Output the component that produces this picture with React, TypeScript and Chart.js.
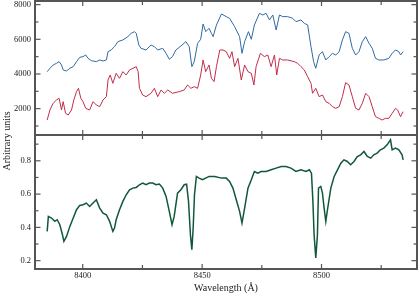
import { useEffect, useRef } from 'react';
import { Chart, registerables } from 'chart.js';

Chart.register(...registerables);

// ---- data (wavelength in Å, flux in arbitrary units) ----
const blueWave = [
  8385.1, 8386.25, 8387.6, 8389.0, 8390.1, 8391.1, 8391.8, 8393.2, 8394.6, 8396.0,
  8397.4, 8398.75, 8400.1, 8401.25, 8402.2, 8403.6, 8405.7, 8407.1, 8408.5, 8409.9,
  8410.6, 8411.9, 8413.3, 8414.7, 8416.8, 8418.9, 8420.3, 8421.7, 8422.4, 8423.5,
  8424.4, 8426.5, 8428.6, 8430.0, 8431.4, 8433.5, 8434.9, 8436.25, 8437.6, 8439.0,
  8441.1, 8443.2, 8444.6, 8445.7, 8446.7, 8448.1, 8449.4, 8450.4, 8451.5, 8452.9,
  8453.9, 8454.6, 8456.0, 8458.1, 8460.1, 8461.5, 8463.6, 8465.7, 8466.7, 8467.8,
  8469.4, 8470.6, 8471.9, 8474.0, 8475.4, 8476.8, 8478.2, 8479.6, 8481.0, 8482.4,
  8483.75, 8485.8, 8487.9, 8489.3, 8491.4, 8492.8, 8494.2, 8495.6, 8496.7, 8497.6,
  8499.0, 8500.4, 8501.8, 8503.2, 8504.6, 8506.0, 8507.4, 8508.75, 8510.1, 8511.5,
  8512.9, 8514.3, 8515.7, 8517.1, 8518.5, 8519.9, 8521.25, 8522.6, 8524.0, 8526.1,
  8528.2, 8529.6, 8531.0, 8532.4, 8533.1, 8534.2,
];
const blueFlux = [
  4134, 4327, 4519, 4615, 4711, 4519, 4231, 4173, 4327, 4423,
  4711, 4962, 5000, 5096, 4904, 4769, 4711, 4808, 4750, 4808,
  5289, 5385, 5577, 5865, 5962, 6154, 6346, 6442, 6346, 5673,
  5481, 5385, 5673, 5577, 5385, 5481, 5192, 4846, 5000, 5385,
  5615, 5865, 5577, 4423, 4711, 5769, 6000, 6885, 6442, 6635,
  6346, 6154, 6827, 7462, 7308, 7212, 6731, 6154, 5192, 5865,
  6442, 6000, 6827, 7500, 7404, 7500, 7115, 7404, 6538, 7404,
  7308, 7308, 7212, 7019, 7115, 6923, 6827, 5577, 4711, 4327,
  5096, 5288, 4808, 5000, 5192, 5096, 5288, 5962, 6442, 6346,
  5481, 5096, 5288, 5865, 6154, 5769, 5481, 4904, 4808, 4808,
  4904, 5192, 5385, 5288, 5096, 5288,
];

const redWave = [
  8385.1, 8386.25, 8387.6, 8389.0, 8390.1, 8391.1, 8391.8, 8392.8, 8393.9, 8395.3,
  8396.25, 8397.4, 8398.2, 8399.2, 8400.1, 8401.25, 8402.9, 8404.3, 8405.7, 8407.1,
  8408.5, 8409.9, 8410.6, 8411.5, 8412.6, 8414.0, 8415.4, 8416.8, 8418.2, 8419.6,
  8421.0, 8422.4, 8423.2, 8423.75, 8425.1, 8426.5, 8428.6, 8430.0, 8431.4, 8432.8,
  8434.2, 8435.6, 8437.6, 8440.4, 8442.5, 8443.9, 8445.3, 8446.7, 8448.1, 8449.4,
  8450.4, 8451.5, 8452.9,
  8453.9, 8455.0, 8456.0, 8457.4, 8458.75, 8460.1, 8461.5, 8462.5, 8463.6, 8465.0,
  8466.4, 8467.8, 8469.2, 8470.6, 8471.7, 8472.6, 8474.4, 8476.1, 8477.5, 8478.9,
  8480.3, 8481.25, 8482.4, 8483.75, 8485.8, 8488.6, 8490.0, 8491.4, 8492.8, 8494.2,
  8495.6, 8496.25, 8497.6, 8499.0, 8500.4, 8501.8, 8503.2, 8504.6, 8506.0, 8507.4,
  8508.75, 8510.1, 8511.5, 8512.9, 8514.3, 8515.7, 8517.1, 8518.5, 8519.9, 8521.25,
  8522.6, 8524.0, 8525.4, 8526.8, 8528.2, 8529.6, 8531.0, 8531.9, 8533.1, 8534.2,
];
const redFlux = [
  1346, 1923, 2308, 2500, 2596, 1923, 2404, 1731, 1635, 1923,
  2500, 2981, 3173, 2596, 2404, 2019, 1923, 2404, 2212, 2115,
  2500, 2692, 3654, 3942, 3462, 4039, 3750, 4135, 3942, 4231,
  4327, 4423, 4135, 3173, 2788, 2692, 2885, 3173, 2692, 3077,
  2885, 3077, 2885, 2981, 3077, 3365, 3173, 3269, 3173, 3942,
  4808, 4135, 4519,
  3750, 3558, 4423, 5385, 5385, 5288, 4904, 5288, 4423, 4904,
  3654, 4519, 4135, 4039, 3365, 4423, 5192, 5000, 5096, 4423,
  5096, 3942, 4904, 4808, 4808, 4711, 4615, 4423, 4231, 3846,
  3462, 2885, 3173, 2692, 2788, 2404, 2308, 2115, 2019, 2115,
  2692, 3500, 3365, 2692, 2019, 1923, 2308, 2885, 2692, 2115,
  1538, 1442, 1346, 1442, 1442, 1731, 2019, 1923, 1538, 1827,
];

const greenWave = [
  8385.1, 8385.6, 8386.9, 8388.3, 8389.3, 8390.4, 8391.5, 8392.1, 8393.2, 8394.6,
  8396.0, 8397.4, 8398.75, 8400.1, 8401.5, 8402.9, 8404.3, 8405.7, 8407.1, 8408.5,
  8409.9, 8411.25, 8412.6, 8413.3, 8414.0, 8415.4, 8416.8, 8418.2, 8419.6, 8421.0,
  8422.4, 8423.75, 8425.1, 8426.5, 8427.9, 8429.3, 8430.7, 8432.1, 8433.5, 8434.9,
  8436.25, 8437.4, 8438.3, 8439.7, 8441.1, 8442.5, 8443.5, 8444.3, 8445.1, 8445.7,
  8446.25, 8446.8, 8447.6, 8448.75, 8450.1, 8451.5, 8452.9,
  8455.3, 8458.1, 8460.1, 8461.5, 8462.9, 8464.3, 8465.7, 8466.7, 8467.8, 8469.2,
  8470.6, 8471.9, 8473.3, 8474.7, 8476.8, 8478.9, 8481.0, 8483.1, 8485.1, 8487.2,
  8489.3, 8491.4, 8493.5, 8494.9, 8495.8, 8496.4, 8496.9, 8497.6, 8498.3, 8498.75,
  8499.7, 8500.4, 8501.1, 8501.8, 8502.5, 8503.9, 8505.3, 8506.7, 8508.1, 8509.4,
  8510.8, 8512.2, 8513.6, 8515.0, 8516.4, 8517.8, 8519.2, 8520.6, 8521.9, 8523.3,
  8524.7, 8526.1, 8527.5, 8528.9, 8529.6, 8531.0, 8532.4, 8533.75, 8534.2,
];
const greenFlux = [
  0.376, 0.466, 0.456, 0.436, 0.446, 0.416, 0.356, 0.316, 0.346, 0.406,
  0.456, 0.506, 0.532, 0.536, 0.546, 0.526, 0.546, 0.566, 0.516, 0.486,
  0.476, 0.436, 0.376, 0.396, 0.446, 0.506, 0.556, 0.596, 0.626, 0.636,
  0.64, 0.656, 0.666, 0.656, 0.666, 0.666, 0.656, 0.66, 0.636, 0.586,
  0.496, 0.416, 0.466, 0.606, 0.626, 0.656, 0.66, 0.556, 0.356, 0.266,
  0.396, 0.596, 0.706, 0.696, 0.686, 0.696, 0.706,
  0.706, 0.696, 0.696, 0.676, 0.636, 0.566, 0.496, 0.426, 0.516, 0.636,
  0.686, 0.736, 0.726, 0.736, 0.736, 0.746, 0.756, 0.766, 0.766, 0.756,
  0.736, 0.746, 0.736, 0.746, 0.726, 0.556, 0.356, 0.216, 0.356, 0.636,
  0.646, 0.606, 0.516, 0.436, 0.506, 0.636, 0.706, 0.746, 0.786, 0.806,
  0.796, 0.776, 0.796, 0.826, 0.836, 0.856, 0.826, 0.816, 0.836, 0.846,
  0.866, 0.876, 0.896, 0.926, 0.866, 0.876, 0.866, 0.836, 0.806,
];

// ---- axes / ticks ----
const xMajorTicks = [8400, 8450, 8500];
const xMinorTicks = [8425, 8475, 8525];
const topMajorTicks = [2000, 4000, 6000, 8000];
const topMinorTicks = [1000, 3000, 5000, 7000];
const botMajorTicks = [0.2, 0.4, 0.6, 0.8];
const botMinorTicks = [0.3, 0.5, 0.7, 0.9];
const xTitle = 'Wavelength (Å)';
const yTitle = 'Arbitrary units';

const SERIF = '"Liberation Serif", "Times New Roman", "DejaVu Serif", serif';
const BLUE = '#2f6aa3';
const RED = '#c12d4a';
const GREEN = '#11573a';
const FRAME = '#555555';
const TEXT = '#222222';

export default function App() {
  const ref = useRef<HTMLCanvasElement | null>(null);

  useEffect(() => {
    document.body.style.margin = '0';
    const pts = (xs: number[], ys: number[]) => xs.map((x, i) => ({ x, y: ys[i] }));
    const fixedTicks = (vals: number[]) => (s: any) => {
      s.ticks = vals.map((v) => ({ value: v }));
    };

    const framePlugin = {
      id: 'frame',
      afterDraw(chart: any) {
        const ctx = chart.ctx as CanvasRenderingContext2D;
        const { left, right } = chart.chartArea;
        const xs = chart.scales.x;
        const panels = [
          { s: chart.scales.yTop, major: topMajorTicks, minor: topMinorTicks },
          { s: chart.scales.yBot, major: botMajorTicks, minor: botMinorTicks },
        ];
        ctx.save();
        ctx.strokeStyle = FRAME;
        ctx.lineWidth = 1.2;
        const seg = (x1: number, y1: number, x2: number, y2: number) => {
          ctx.beginPath();
          ctx.moveTo(x1, y1);
          ctx.lineTo(x2, y2);
          ctx.stroke();
        };
        for (const p of panels) {
          const top = p.s.top;
          const bottom = p.s.bottom;
          for (const t of xMajorTicks) {
            const px = xs.getPixelForValue(t);
            seg(px, top, px, top + 5);
            seg(px, bottom, px, bottom - 5);
          }
          for (const t of xMinorTicks) {
            const px = xs.getPixelForValue(t);
            seg(px, top, px, top + 4);
            seg(px, bottom, px, bottom - 4);
          }
          for (const v of p.major) {
            const py = p.s.getPixelForValue(v);
            seg(left, py, left + 5.5, py);
            seg(right, py, right - 5.5, py);
          }
          for (const v of p.minor) {
            const py = p.s.getPixelForValue(v);
            seg(left, py, left + 3.5, py);
            seg(right, py, right - 3.5, py);
          }
        }
        ctx.lineWidth = 2;
        for (const p of panels) {
          ctx.strokeRect(left, p.s.top, right - left, p.s.bottom - p.s.top);
        }
        ctx.fillStyle = TEXT;
        ctx.font = `10px ${SERIF}`;
        ctx.textAlign = 'center';
        ctx.textBaseline = 'middle';
        ctx.fillText(xTitle, (left + right) / 2, 288);
        ctx.translate(7, 141);
        ctx.rotate(-Math.PI / 2);
        ctx.fillText(yTitle, 0, 0);
        ctx.restore();
      },
    };

    const tickFont = { family: SERIF, size: 8.5 };

    const chart = new Chart(ref.current as HTMLCanvasElement, {
      type: 'line',
      data: {
        datasets: [
          { data: pts(blueWave, blueFlux), borderColor: BLUE, borderWidth: 1, pointRadius: 0, yAxisID: 'yTop' },
          { data: pts(redWave, redFlux), borderColor: RED, borderWidth: 1, pointRadius: 0, yAxisID: 'yTop' },
          { data: pts(greenWave, greenFlux), borderColor: GREEN, borderWidth: 1.5, pointRadius: 0, yAxisID: 'yBot' },
        ],
      },
      options: {
        animation: false,
        responsive: false,
        events: [],
        plugins: { legend: { display: false }, tooltip: { enabled: false } },
        layout: { padding: { top: 1, right: 2, left: 0, bottom: 0 } },
        scales: {
          x: {
            type: 'linear',
            min: 8380,
            max: 8540,
            grid: { display: false, drawTicks: false },
            border: { display: false },
            afterBuildTicks: fixedTicks(xMajorTicks),
            ticks: {
              font: tickFont,
              color: TEXT,
              padding: 2,
              maxRotation: 0,
              autoSkip: false,
              callback: (v: any) => String(v),
            },
            afterFit: (s: any) => {
              s.height = 25;
              s.paddingLeft = 0;
              s.paddingRight = 0;
            },
          },
          yBot: {
            type: 'linear',
            position: 'left',
            stack: 'panels',
            stackWeight: 1,
            min: 0.15,
            max: 0.955,
            grid: { display: false, drawTicks: false },
            border: { display: false },
            afterBuildTicks: fixedTicks(botMajorTicks),
            ticks: {
              font: tickFont,
              color: TEXT,
              padding: 4,
              autoSkip: false,
              callback: (v: any) => Number(v).toFixed(1),
            },
            afterFit: (s: any) => {
              s.width = 35;
              s.paddingTop = 0;
              s.paddingBottom = 0;
            },
          },
          yTop: {
            type: 'linear',
            position: 'left',
            stack: 'panels',
            stackWeight: 1,
            min: 480,
            max: 8210,
            grid: { display: false, drawTicks: false },
            border: { display: false },
            afterBuildTicks: fixedTicks(topMajorTicks),
            ticks: {
              font: tickFont,
              color: TEXT,
              padding: 4,
              autoSkip: false,
              callback: (v: any) => String(v),
            },
            afterFit: (s: any) => {
              s.width = 35;
              s.paddingTop = 0;
              s.paddingBottom = 0;
            },
          },
        },
      } as any,
      plugins: [framePlugin],
    });
    return () => chart.destroy();
  }, []);

  return (
    <div style={{ position: 'absolute', left: 0, top: 0, width: 419, height: 294 }}>
      <canvas ref={ref} width={419} height={294} style={{ display: 'block' }} />
    </div>
  );
}
